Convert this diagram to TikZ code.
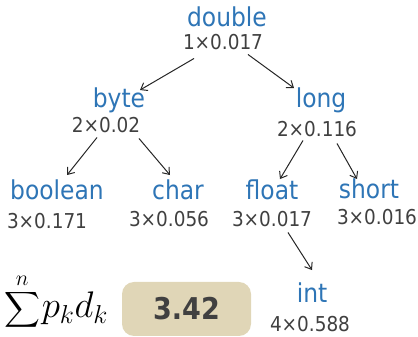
\RequirePackage{fix-cm}
\documentclass[tikz,border=0pt]{standalone}
\usepackage{fontspec}
\setmainfont{DejaVu Sans Condensed}
\usepackage{amsmath}
\usetikzlibrary{arrows.meta}
\definecolor{typeblue}{RGB}{46,117,182}
\definecolor{numgrey}{RGB}{64,64,64}
\definecolor{boxtan}{RGB}{224,214,183}
\begin{document}
\begin{tikzpicture}[x=1pt, y=1pt,
  typename/.style={font=\fontsize{26}{28}\selectfont, text=typeblue, anchor=base, inner sep=1pt},
  weight/.style={font=\fontsize{20.5}{22}\selectfont, text=numgrey, anchor=base, inner sep=1pt},
  arr/.style={-{Straight Barb[length=6pt, width=9pt]}, line width=1pt, black!85}]
  \useasboundingbox (0,0) rectangle (418,337);

  % Root
  \node[typename] (dbl) at (227,310) {double};
  \node[weight] (dblW) at (223,287) {1×0.017};

  % Level 1
  \node[typename] (byte) at (119,229) {byte};
  \node[weight] (byteW) at (106,204) {2×0.02};
  \node[typename] (long) at (321,229) {long};
  \node[weight] (longW) at (317,200) {2×0.116};

  % Level 2
  \node[typename] (bool) at (57,137) {boolean};
  \node[weight] (boolW) at (47,108) {3×0.171};
  \node[typename] (char) at (178,137) {char};
  \node[weight] (charW) at (169,110) {3×0.056};
  \node[typename] (float) at (272,137) {float};
  \node[weight] (floatW) at (272,110) {3×0.017};
  \node[typename] (short) at (369,138) {short};
  \node[weight] (shortW) at (377,112) {3×0.016};

  % Level 3
  \node[typename] (int) at (312,34) {int};
  \node[weight] (intW) at (310,5) {4×0.588};

  % Sum and result
  \node[anchor=base west, inner sep=0pt] (sum) at (4,19)
    {{\fontsize{31}{34}\selectfont$\displaystyle\sum^{n}$}\,{\fontsize{37}{40}\selectfont$p_k d_k$}};
  \node[fill=boxtan, rounded corners=12pt, minimum width=129pt, minimum height=54pt,
    font=\fontsize{30}{33}\selectfont\bfseries, text=numgrey] (avg) at (186.5,28) {3.42};

  % Edges
  \draw[arr] ([shift={(-29,-7)}]dblW.south) -- ([shift={(21,-3)}]byte.north);
  \draw[arr] ([shift={(25,-3)}]dblW.south) -- ([shift={(-27,-1)}]long.north);
  \draw[arr] ([shift={(-9,-3)}]byteW.south) -- ([shift={(10,4)}]bool.north);
  \draw[arr] ([shift={(33,-4)}]byteW.south) -- ([shift={(-8,4)}]char.north);
  \draw[arr] ([shift={(-14,-2)}]longW.south) -- ([shift={(8,0)}]float.north);
  \draw[arr] ([shift={(20,-5)}]longW.south) -- ([shift={(-12,-1)}]short.north);
  \draw[arr] ([shift={(16,-4)}]floatW.south) -- ([shift={(0,12)}]int.north);
\end{tikzpicture}
\end{document}
